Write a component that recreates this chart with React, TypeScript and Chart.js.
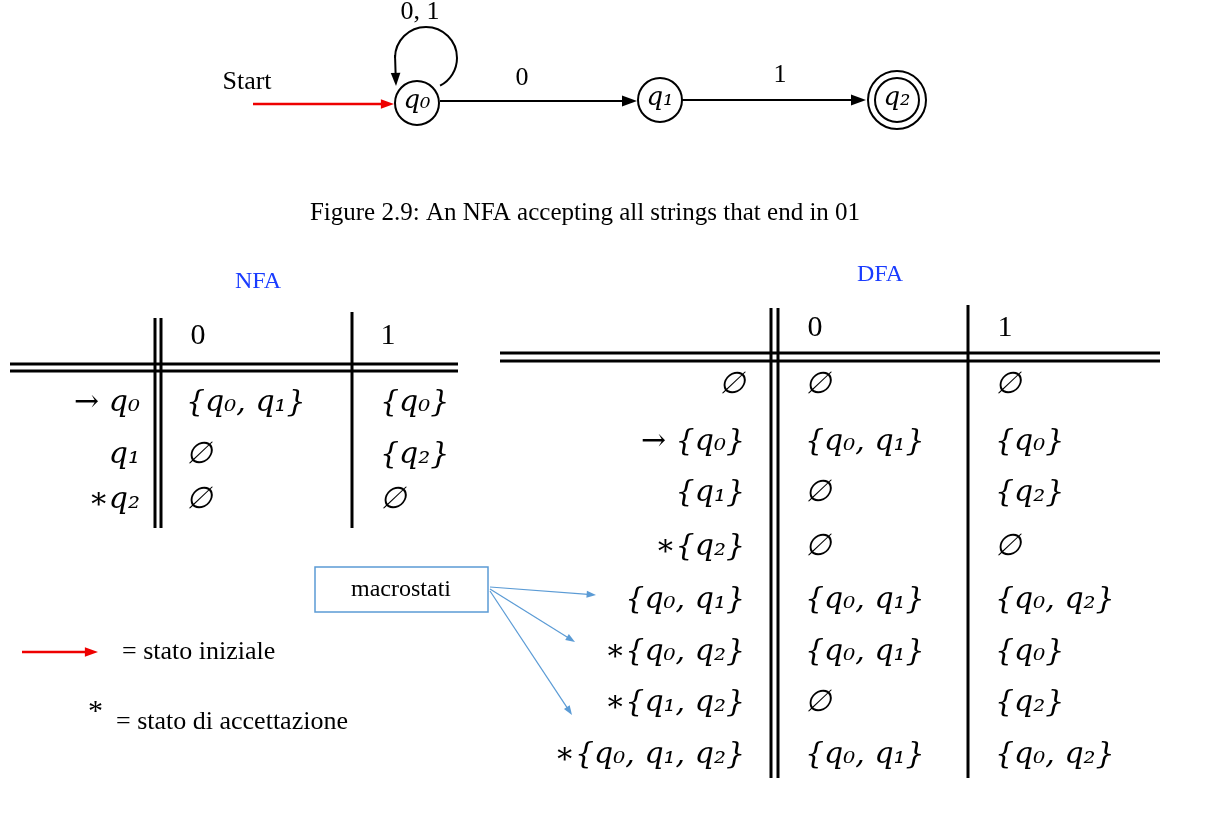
import React, { useEffect, useRef } from 'react';
import Chart from 'chart.js/auto';

// NFA diagram states (page coordinates)
const stateNames = ['q₀', 'q₁', 'q₂'];
const stateX = [417, 660, 897];
const stateY = [103, 100, 100];

// NFA transition table
const nfaRows = ['→ q₀', 'q₁', '∗q₂'];
const nfaOn0 = ['{q₀, q₁}', '∅', '∅'];
const nfaOn1 = ['{q₀}', '{q₂}', '∅'];
const nfaRowY = [403, 455, 500];

// DFA transition table
const dfaRows = ['∅', '→ {q₀}', '{q₁}', '∗{q₂}', '{q₀, q₁}', '∗{q₀, q₂}', '∗{q₁, q₂}', '∗{q₀, q₁, q₂}'];
const dfaOn0 = ['∅', '{q₀, q₁}', '∅', '∅', '{q₀, q₁}', '{q₀, q₁}', '∅', '{q₀, q₁}'];
const dfaOn1 = ['∅', '{q₀}', '{q₂}', '∅', '{q₀, q₂}', '{q₀}', '{q₂}', '{q₀, q₂}'];
const dfaRowY = [385, 442, 493, 547, 600, 652, 703, 755];

const MATH = '"DejaVu Serif", serif';
const TEXT = '"Liberation Serif", "Times New Roman", serif';

const App: React.FC = () => {
  const canvasRef = useRef<HTMLCanvasElement>(null);

  useEffect(() => {
    document.body.style.margin = '0';
    const ctx = canvasRef.current?.getContext('2d');
    if (!ctx) return;

    const drawing = {
      id: 'drawing',
      afterDatasetsDraw(chart: any) {
        const c = chart.ctx as CanvasRenderingContext2D;
        const X = (v: number) => chart.scales.x.getPixelForValue(v);
        const Y = (v: number) => chart.scales.y.getPixelForValue(v);
        const line = (x1: number, y1: number, x2: number, y2: number, w = 3, col = '#000') => {
          c.strokeStyle = col; c.lineWidth = w;
          c.beginPath(); c.moveTo(X(x1), Y(y1)); c.lineTo(X(x2), Y(y2)); c.stroke();
        };
        const arrow = (x1: number, y1: number, x2: number, y2: number, col: string, w: number, h: number) => {
          const a = Math.atan2(Y(y2) - Y(y1), X(x2) - X(x1));
          line(x1, y1, x2 - Math.cos(a) * h * 0.8, y2 - Math.sin(a) * h * 0.8, w, col);
          c.fillStyle = col; c.beginPath();
          c.moveTo(X(x2), Y(y2));
          c.lineTo(X(x2) - h * Math.cos(a - 0.35), Y(y2) - h * Math.sin(a - 0.35));
          c.lineTo(X(x2) - h * Math.cos(a + 0.35), Y(y2) - h * Math.sin(a + 0.35));
          c.closePath(); c.fill();
        };
        const text = (s: string, x: number, y: number, font: string, align: CanvasTextAlign = 'left', col = '#000') => {
          c.font = font; c.fillStyle = col; c.textAlign = align; c.textBaseline = 'middle';
          c.fillText(s, X(x), Y(y));
        };
        c.save();
        // self loop on q0
        c.strokeStyle = '#000'; c.lineWidth = 2;
        c.beginPath(); c.arc(X(426), Y(58), 31, Math.PI * 1.0, Math.PI * 0.35); c.stroke();
        arrow(395, 55, 396, 86, '#000', 2, 14);
        // transitions
        arrow(253, 104, 394, 104, '#e00', 2.5, 14);
        arrow(440, 101, 637, 101, '#000', 2, 16);
        arrow(682, 100, 866, 100, '#000', 2, 16);
        stateNames.forEach((n, i) => text(n, stateX[i], stateY[i] - 2, `italic 26px ${MATH}`, 'center'));
        text('0, 1', 420, 12, `26px ${TEXT}`, 'center');
        text('0', 522, 78, `26px ${TEXT}`, 'center');
        text('1', 780, 75, `26px ${TEXT}`, 'center');
        text('Start', 247, 82, `26px ${TEXT}`, 'center');
        text('Figure 2.9: An NFA accepting all strings that end in 01', 585, 213, `25px ${TEXT}`, 'center');
        text('NFA', 258, 282, `24px ${TEXT}`, 'center', '#1a3cff');
        text('DFA', 880, 275, `24px ${TEXT}`, 'center', '#1a3cff');

        // NFA table
        line(10, 364, 458, 364); line(10, 371, 458, 371);
        line(155, 318, 155, 528); line(161, 318, 161, 528); line(352, 312, 352, 528);
        text('0', 198, 336, `30px ${TEXT}`, 'center');
        text('1', 388, 336, `30px ${TEXT}`, 'center');
        nfaRows.forEach((r, i) => {
          text(r, 140, nfaRowY[i], `italic 30px ${MATH}`, 'right');
          text(nfaOn0[i], 186, nfaRowY[i], `italic 30px ${MATH}`);
          text(nfaOn1[i], 380, nfaRowY[i], `italic 30px ${MATH}`);
        });

        // DFA table
        line(500, 353, 1160, 353); line(500, 361, 1160, 361);
        line(771, 308, 771, 778); line(778, 308, 778, 778); line(968, 305, 968, 778);
        text('0', 815, 328, `30px ${TEXT}`, 'center');
        text('1', 1005, 328, `30px ${TEXT}`, 'center');
        dfaRows.forEach((r, i) => {
          text(r, 745, dfaRowY[i], `italic 30px ${MATH}`, 'right');
          text(dfaOn0[i], 805, dfaRowY[i], `italic 30px ${MATH}`);
          text(dfaOn1[i], 995, dfaRowY[i], `italic 30px ${MATH}`);
        });

        // macrostati annotation
        c.strokeStyle = '#5b9bd5'; c.lineWidth = 1.5;
        c.strokeRect(X(315), Y(567), X(488) - X(315), Y(612) - Y(567));
        text('macrostati', 401, 590, `24px ${TEXT}`, 'center');
        arrow(490, 587, 596, 595, '#5b9bd5', 1.2, 10);
        arrow(490, 589, 575, 642, '#5b9bd5', 1.2, 10);
        arrow(490, 591, 572, 715, '#5b9bd5', 1.2, 10);

        // legend
        arrow(22, 652, 98, 652, '#e00', 2.5, 14);
        text('= stato iniziale', 122, 652, `26px ${TEXT}`);
        text('*', 88, 712, `30px ${TEXT}`);
        text('= stato di accettazione', 116, 722, `26px ${TEXT}`);
        c.restore();
      },
    };

    const chart = new Chart(ctx, {
      type: 'scatter',
      data: {
        datasets: [
          {
            data: stateX.map((x, i) => ({ x, y: stateY[i] })),
            pointRadius: 22, pointBackgroundColor: 'rgba(0,0,0,0)', pointBorderColor: '#000', pointBorderWidth: 2,
          },
          {
            data: [{ x: stateX[2], y: stateY[2] }],
            pointRadius: 29, pointBackgroundColor: 'rgba(0,0,0,0)', pointBorderColor: '#000', pointBorderWidth: 2,
          },
        ],
      },
      options: {
        animation: false,
        responsive: false,
        events: [],
        layout: { padding: 0, autoPadding: false },
        plugins: { legend: { display: false }, tooltip: { enabled: false } },
        scales: {
          x: { type: 'linear', min: 0, max: 1216, display: false },
          y: { type: 'linear', min: 0, max: 833, reverse: true, display: false },
        },
      },
      plugins: [drawing],
    });
    return () => chart.destroy();
  }, []);

  return (
    <div style={{ width: 1216, height: 833, background: '#fff' }}>
      <canvas ref={canvasRef} width={1216} height={833}></canvas>
    </div>
  );
};

export default App;
